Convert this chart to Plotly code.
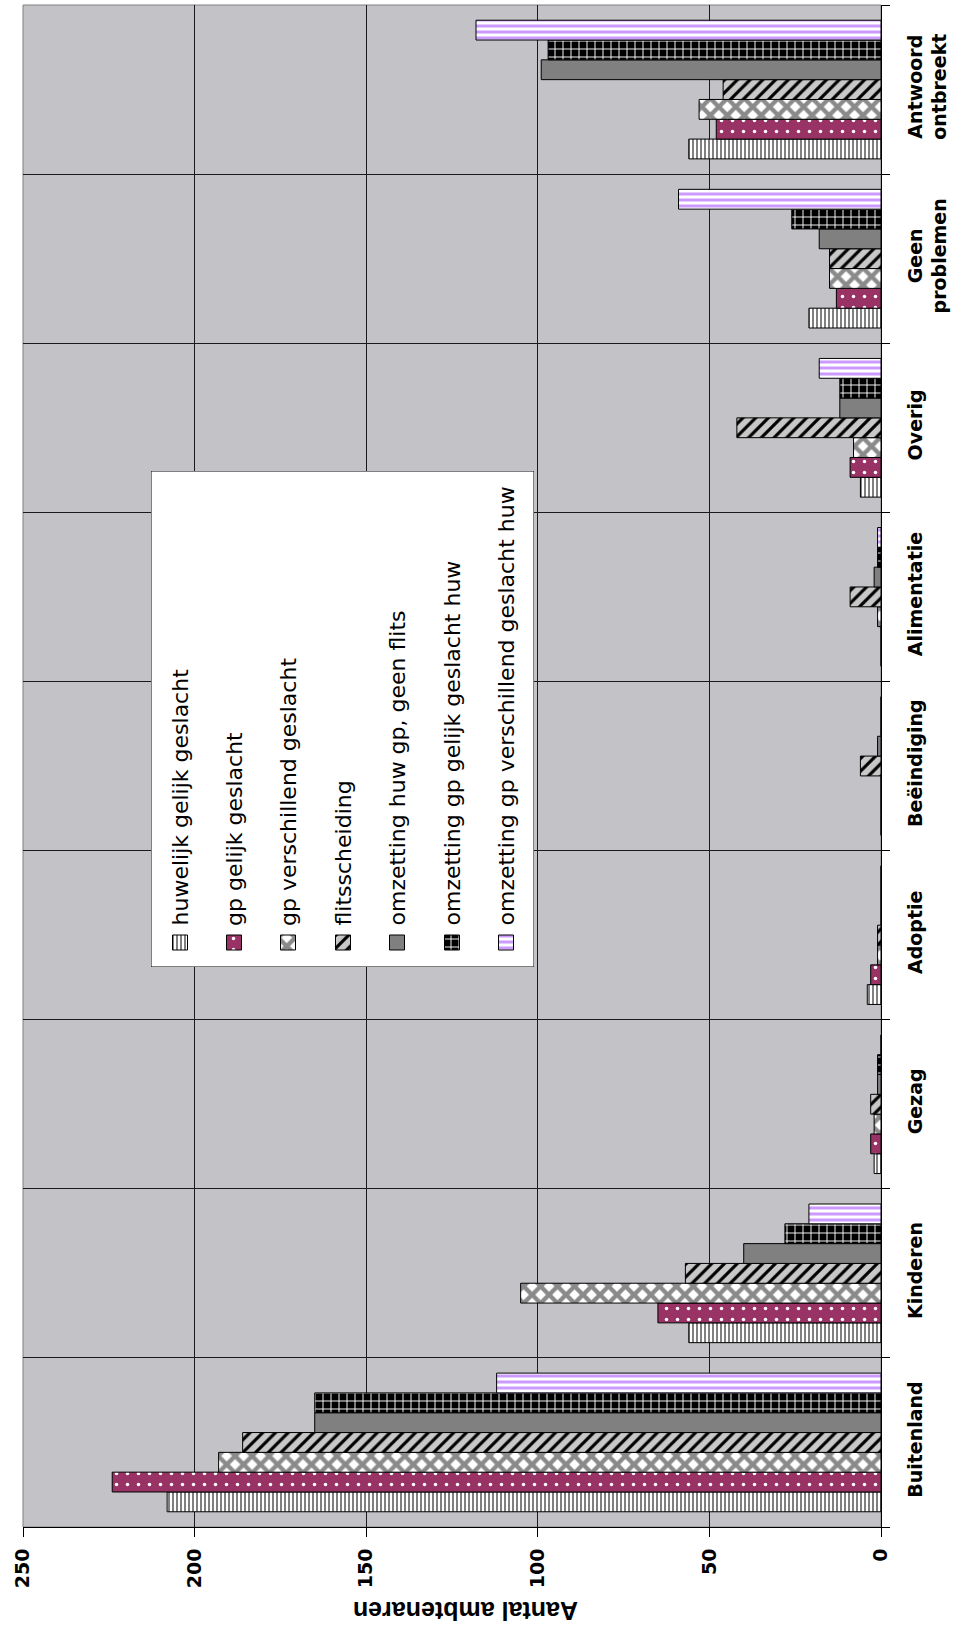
import plotly.graph_objects as go

# Categories (bottom to top) and counts per series
categories = ["Buitenland", "Kinderen", "Gezag", "Adoptie", "Beëindiging",
              "Alimentatie", "Overig", "Geen problemen", "Antwoord ontbreekt"]
category_labels = ["Buitenland", "Kinderen", "Gezag", "Adoptie", "Beëindiging",
                   "Alimentatie", "Overig", "Geen<br>problemen", "Antwoord<br>ontbreekt"]

series_names = [
    "huwelijk gelijk geslacht",
    "gp gelijk geslacht",
    "gp verschillend geslacht",
    "flitsscheiding",
    "omzetting huw gp, geen flits",
    "omzetting gp gelijk geslacht huw",
    "omzetting gp verschillend geslacht huw",
]

huwelijk_gelijk = [208, 56, 2, 4, 0, 0, 6, 21, 56]
gp_gelijk = [224, 65, 3, 3, 0, 0, 9, 13, 48]
gp_verschillend = [193, 105, 2, 1, 0, 1, 8, 15, 53]
flitsscheiding = [186, 57, 3, 1, 6, 9, 42, 15, 46]
omzetting_huw_gp = [165, 40, 1, 0, 1, 2, 12, 18, 99]
omzetting_gp_gelijk = [165, 28, 1, 0, 0, 1, 12, 26, 97]
omzetting_gp_verschillend = [112, 21, 0, 0, 0, 1, 18, 59, 118]

series_values = [huwelijk_gelijk, gp_gelijk, gp_verschillend, flitsscheiding,
                 omzetting_huw_gp, omzetting_gp_gelijk, omzetting_gp_verschillend]

value_ticks = [0, 50, 100, 150, 200, 250]

# Fill styles for each series
styles = [
    dict(color="white", pattern=dict(shape="|", fgcolor="#808080", bgcolor="white", size=4, solidity=0.5, fillmode="replace")),
    dict(color="#993366", pattern=dict(shape=".", fgcolor="white", bgcolor="#993366", size=11, solidity=0.08, fillmode="replace")),
    dict(color="white", pattern=dict(shape="x", fgcolor="#8a8a8a", bgcolor="white", size=12, solidity=0.6, fillmode="replace")),
    dict(color="#c8c8c8", pattern=dict(shape="/", fgcolor="black", bgcolor="#c8c8c8", size=9, solidity=0.35, fillmode="replace")),
    dict(color="#808080"),
    dict(color="black", pattern=dict(shape="+", fgcolor="white", bgcolor="black", size=8, solidity=0.22, fillmode="replace")),
    dict(color="white", pattern=dict(shape="-", fgcolor="#cc99ff", bgcolor="white", size=6, solidity=0.5, fillmode="replace")),
]

W, H = 959, 1635
L, R, T, B = 23, 881, 5, 1527  # plot area in pixels


def px_x(px):
    return (px - L) / (R - L)


def px_y(py):
    return (B - py) / (B - T)


fig = go.Figure()

for name, vals, st in zip(series_names, series_values, styles):
    fig.add_trace(go.Bar(
        name=name, y=categories, x=vals, orientation="h",
        marker=dict(**st, line=dict(color="black", width=1)),
        showlegend=False,
    ))

# Rotated legend drawn on its own small axes (units = pixels inside the box)
leg_x0, leg_x1, leg_y0, leg_y1 = 151, 534, 471, 967
leg_w, leg_h = leg_x1 - leg_x0, leg_y1 - leg_y0
col_centers = [29, 83, 137, 192, 246, 301, 355]
sw = 15
for cx, name, st in zip(col_centers, series_names, styles):
    fig.add_trace(go.Bar(
        x=[cx], y=[sw], base=[464], width=[sw], offset=-sw / 2,
        xaxis="x2", yaxis="y2",
        marker=dict(**st, line=dict(color="black", width=1)),
        showlegend=False, hoverinfo="skip",
    ))
    fig.add_annotation(
        x=cx, y=457, xref="x2", yref="y2", text=name, textangle=-90,
        xanchor="center", yanchor="bottom", showarrow=False,
        font=dict(family="DejaVu Sans", size=22, color="black"),
    )

fig.add_shape(type="rect", xref="x2", yref="y2", x0=0, x1=leg_w, y0=0, y1=leg_h,
              fillcolor="white", line=dict(color="black", width=1), layer="between")

# Plot-area frame
fig.add_shape(type="rect", xref="paper", yref="paper", x0=0, x1=1, y0=0, y1=1,
              line=dict(color="#808080", width=1), layer="below")

fig.add_annotation(
    x=px_x(466), y=px_y(1611), xref="paper", yref="paper",
    text="Aantal ambtenaren", textangle=180, showarrow=False,
    xanchor="center", yanchor="middle",
    font=dict(family="Liberation Sans", size=25, color="black", weight="bold"),
)

fig.update_layout(
    width=W, height=H, autosize=False,
    margin=dict(l=L, r=W - R, t=T, b=H - B),
    paper_bgcolor="white", plot_bgcolor="#c3c2c6",
    barmode="group", bargap=0.18, bargroupgap=0,
    showlegend=False,
    xaxis=dict(
        range=[250, 0], tickvals=value_ticks, ticktext=[str(v) for v in value_ticks],
        tickangle=-90, ticks="outside", ticklen=9, tickcolor="black",
        showline=True, linecolor="black", linewidth=1,
        showgrid=True, gridcolor="#1a1a1a", gridwidth=1, zeroline=False,
        tickfont=dict(family="DejaVu Sans", size=19, color="black", weight="bold"),
        ticklabelstandoff=4,
    ),
    yaxis=dict(
        type="category", categoryorder="array", categoryarray=categories,
        tickvals=categories, ticktext=category_labels,
        side="right", tickangle=-90, ticks="outside", ticklen=8, tickcolor="black",
        tickson="boundaries", showline=True, linecolor="black", linewidth=1,
        showgrid=True, gridcolor="#1a1a1a", gridwidth=1,
        tickfont=dict(family="DejaVu Sans", size=19, color="black", weight="bold"),
        ticklabelstandoff=17,
    ),
    xaxis2=dict(domain=[px_x(leg_x0), px_x(leg_x1)], range=[0, leg_w],
                anchor="y2", visible=False, fixedrange=True),
    yaxis2=dict(domain=[px_y(leg_y1), px_y(leg_y0)], range=[leg_h, 0],
                anchor="x2", visible=False, fixedrange=True),
)

fig.write_html("out.html")
